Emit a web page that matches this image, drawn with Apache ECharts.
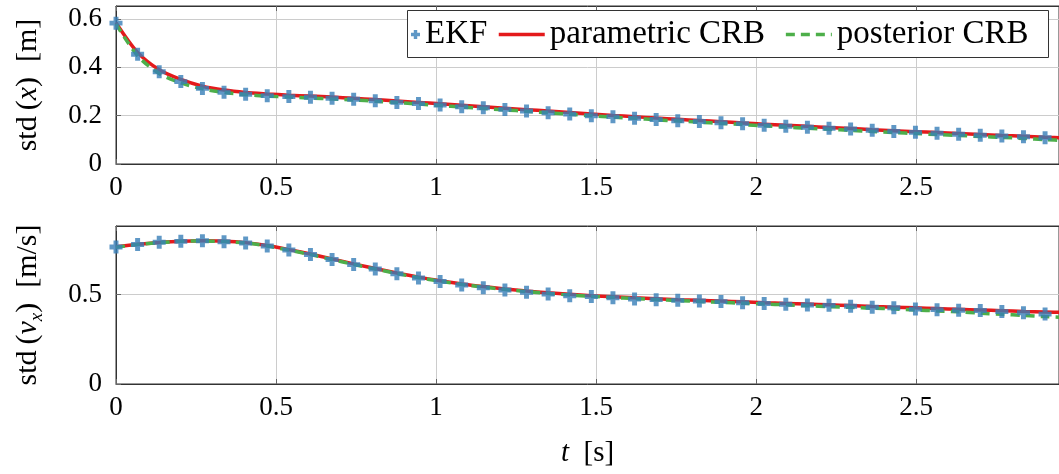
<!DOCTYPE html>
<html><head><meta charset="utf-8">
<script src="https://cdn.jsdelivr.net/npm/echarts@6/dist/echarts.min.js"></script>
<style>html,body{margin:0;padding:0;background:#fff}#c{width:1059px;height:474px}</style>
</head><body><div id="c"></div>
<script>
// time samples (s) of the EKF markers
const tMarks = [0,0.0675,0.135,0.2025,0.27,0.3375,0.405,0.4725,0.54,0.6075,0.675,0.7425,0.81,0.8775,0.945,1.0125,1.08,1.1475,1.215,1.2825,1.35,1.4175,1.485,1.5525,1.62,1.6875,1.755,1.8225,1.89,1.9575,2.025,2.0925,2.16,2.2275,2.295,2.3625,2.43,2.4975,2.565,2.6325,2.7,2.7675,2.835,2.9025];
// time samples (s) of the CRB curves
const tLine = [0,0.0675,0.135,0.2025,0.27,0.3375,0.405,0.4725,0.54,0.6075,0.675,0.7425,0.81,0.8775,0.945,1.0125,1.08,1.1475,1.215,1.2825,1.35,1.4175,1.485,1.5525,1.62,1.6875,1.755,1.8225,1.89,1.9575,2.025,2.0925,2.16,2.2275,2.295,2.3625,2.43,2.4975,2.565,2.6325,2.7,2.7675,2.835,2.9025,2.97];

// std(x) [m]
const ekfPos = [0.583,0.454,0.382,0.341,0.313,0.297,0.289,0.283,0.279,0.276,0.272,0.268,0.262,0.255,0.250,0.244,0.237,0.233,0.226,0.219,0.212,0.207,0.200,0.196,0.189,0.184,0.179,0.176,0.171,0.167,0.160,0.156,0.152,0.148,0.145,0.140,0.135,0.131,0.127,0.123,0.119,0.116,0.113,0.109];
const paramPos = [0.585,0.462,0.390,0.350,0.322,0.306,0.296,0.290,0.285,0.281,0.277,0.272,0.267,0.261,0.255,0.249,0.243,0.237,0.231,0.225,0.219,0.213,0.207,0.201,0.196,0.190,0.185,0.180,0.175,0.170,0.165,0.160,0.156,0.151,0.147,0.142,0.138,0.134,0.130,0.126,0.122,0.118,0.115,0.111,0.108];
const postPos = [0.580,0.448,0.375,0.336,0.311,0.296,0.287,0.281,0.277,0.273,0.269,0.265,0.260,0.254,0.248,0.242,0.236,0.230,0.224,0.218,0.212,0.206,0.200,0.194,0.189,0.183,0.178,0.173,0.168,0.163,0.158,0.153,0.148,0.144,0.139,0.135,0.130,0.126,0.122,0.118,0.114,0.110,0.106,0.101,0.097];

// std(v_x) [m/s]
const ekfVel = [0.766,0.781,0.793,0.798,0.802,0.796,0.789,0.772,0.750,0.725,0.697,0.668,0.643,0.617,0.593,0.573,0.554,0.539,0.526,0.513,0.503,0.494,0.489,0.483,0.475,0.472,0.468,0.464,0.461,0.455,0.450,0.446,0.442,0.440,0.435,0.429,0.427,0.419,0.416,0.413,0.411,0.405,0.399,0.391];
const paramVel = [0.768,0.782,0.792,0.799,0.801,0.799,0.791,0.775,0.752,0.727,0.700,0.672,0.646,0.621,0.598,0.578,0.560,0.545,0.532,0.520,0.510,0.502,0.494,0.488,0.482,0.477,0.472,0.468,0.464,0.460,0.455,0.451,0.447,0.443,0.439,0.434,0.430,0.426,0.422,0.418,0.414,0.410,0.406,0.403,0.400];
const postVel = [0.765,0.780,0.791,0.798,0.800,0.797,0.789,0.772,0.749,0.724,0.697,0.669,0.643,0.618,0.595,0.575,0.557,0.542,0.529,0.517,0.507,0.498,0.490,0.484,0.478,0.472,0.467,0.462,0.457,0.452,0.447,0.443,0.438,0.433,0.429,0.424,0.420,0.414,0.409,0.404,0.396,0.390,0.384,0.377,0.372];

const seriesNames = ['EKF','parametric CRB','posterior CRB'];
const xRange = [0, 2.946];
const posRange = [0, 0.654];
const velRange = [0, 0.884];

const FONT = 'Liberation Serif';
const BLUE = '#377eb8', RED = '#e41a1c', GREEN = '#4daf4a';
const CROSS = 'path://M3.1,0H6.9V3.1H10V6.9H6.9V10H3.1V6.9H0V3.1H3.1Z';

const pairs = (ts, vs) => vs.map((v, i) => [ts[i], v]);
const tickFmt = v => '{a|' + v + '}';
const tickRich = {a: {fontFamily: FONT, fontSize: 27, color: '#000'}};

function xAx(grid, pos, withLabels, name) {
  const a = {
    gridIndex: grid, type: 'value', position: pos,
    min: xRange[0], max: xRange[1], interval: 0.5,
    axisLine: {show: true, onZero: false, lineStyle: {color: '#333', width: 1}},
    axisTick: {show: true, inside: true, length: 5, lineStyle: {color: '#666'}},
    axisLabel: {show: withLabels, fontFamily: FONT, fontSize: 27, color: '#000', margin: 10,
                showMaxLabel: false, formatter: tickFmt, rich: tickRich},
    splitLine: {show: withLabels, lineStyle: {color: '#cccccc', width: 1}}
  };
  if (name) {
    a.name = name;
    a.nameLocation = 'middle';
    a.nameGap = 55;
    a.nameTextStyle = {fontFamily: FONT, fontSize: 29, color: '#000',
      rich: {r: {fontFamily: FONT, fontSize: 29, color: '#000'},
             i: {fontFamily: FONT, fontSize: 29, fontStyle: 'italic', color: '#000'}}};
  }
  return a;
}
function yAx(grid, range, interval, name) {
  return {
    gridIndex: grid, type: 'value', min: range[0], max: range[1], interval: interval,
    axisLine: {show: true, onZero: false, lineStyle: {color: '#333', width: 1}},
    axisTick: {show: true, inside: true, length: 5, lineStyle: {color: '#666'}},
    axisLabel: {fontFamily: FONT, fontSize: 27, color: '#000', margin: 14,
                showMaxLabel: false, formatter: tickFmt, rich: tickRich},
    splitLine: {show: true, lineStyle: {color: '#cccccc', width: 1}},
    name: name, nameLocation: 'middle', nameRotate: 90, nameGap: 70,
    nameTextStyle: {fontFamily: FONT, fontSize: 30, color: '#000',
      rich: {
        r: {fontFamily: FONT, fontSize: 30, color: '#000', lineHeight: 36},
        i: {fontFamily: FONT, fontSize: 30, fontStyle: 'italic', color: '#000', lineHeight: 36},
        s: {fontFamily: FONT, fontSize: 19, fontStyle: 'italic', color: '#000', lineHeight: 20, verticalAlign: 'bottom'}
      }}
  };
}

const lineSeries = (name, xi, yi, data, color, dashed, z) => ({
  name, type: 'line', xAxisIndex: xi, yAxisIndex: yi, data,
  symbol: 'none', smooth: 0.3, z,
  lineStyle: {color, width: 3.5, type: dashed ? [9, 6] : 'solid'},
  itemStyle: {color}
});
const markSeries = (xi, yi, data) => ({
  name: seriesNames[0], type: 'scatter', xAxisIndex: xi, yAxisIndex: yi, data,
  symbol: CROSS, symbolSize: 13, z: 4,
  itemStyle: {color: BLUE}
});

const option = {
  animation: false,
  backgroundColor: '#fff',
  grid: [
    {left: 116, right: -1, top: 6, height: 158, show: true, borderColor: '#333', borderWidth: 1, backgroundColor: 'transparent'},
    {left: 116, right: -1, top: 226, height: 158, show: true, borderColor: '#333', borderWidth: 1, backgroundColor: 'transparent'}
  ],
  xAxis: [
    xAx(0, 'bottom', true),
    xAx(0, 'top', false),
    xAx(1, 'bottom', true, '{i|t}{r|  [s]}'),
    xAx(1, 'top', false)
  ],
  yAxis: [
    yAx(0, posRange, 0.2, '{r|std\u2009(}{i|x}{r|)  [m]}'),
    yAx(1, velRange, 0.5, '{r|std\u2009(}{i|v}{s|x}{r|)  [m/s]}')
  ],
  legend: [
    {data: [{name: seriesNames[0], icon: CROSS}], left: 411, top: 18, padding: 0,
     itemWidth: 9, itemHeight: 9, selectedMode: false, z: 6,
     textStyle: {fontFamily: FONT, fontSize: 33, color: '#000'}},
    {data: [seriesNames[1], seriesNames[2]], left: 497, top: 18, padding: 0,
     itemWidth: 46, itemHeight: 14, itemGap: 19, selectedMode: false, z: 6,
     itemStyle: {opacity: 0},
     lineStyle: {width: 3.5},
     textStyle: {fontFamily: FONT, fontSize: 33, color: '#000'}}
  ],
  graphic: [
    {type: 'rect', z: 5, shape: {x: 407.5, y: 10.5, width: 641, height: 47},
     style: {fill: '#fff', stroke: '#333', lineWidth: 1}}
  ],
  series: [
    lineSeries(seriesNames[1], 0, 0, pairs(tLine, paramPos), RED, false, 2),
    lineSeries(seriesNames[2], 0, 0, pairs(tLine, postPos), GREEN, true, 3),
    markSeries(0, 0, pairs(tMarks, ekfPos)),
    lineSeries(seriesNames[1], 2, 1, pairs(tLine, paramVel), RED, false, 2),
    lineSeries(seriesNames[2], 2, 1, pairs(tLine, postVel), GREEN, true, 3),
    markSeries(2, 1, pairs(tMarks, ekfVel))
  ]
};

const chart = echarts.init(document.getElementById('c'), null, {renderer: 'canvas'});
chart.setOption(option);
</script>
</body></html>
